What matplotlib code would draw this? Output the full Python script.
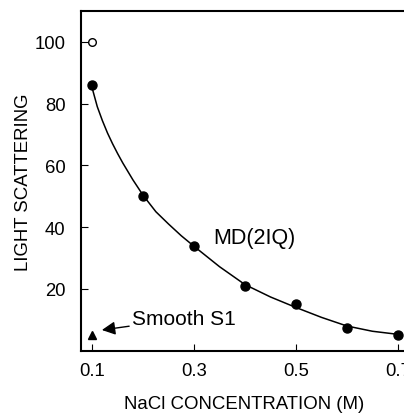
import matplotlib

matplotlib.use("Agg")
import matplotlib.pyplot as plt

plt.rcParams["font.family"] = ["Liberation Sans", "DejaVu Sans"]

# measured points, MD(2IQ)
nacl = [0.1, 0.2, 0.3, 0.4, 0.5, 0.6, 0.7]
scatter_md = [86, 50, 34, 21, 15, 7.5, 5]

# open circle and Smooth S1 triangle at 0.1 M
open_x, open_y = [0.1], [100]
s1_x, s1_y = [0.1], [5]

# fitted curve
curve_x = [0.100, 0.110, 0.120, 0.130, 0.140, 0.150, 0.160, 0.180, 0.200,
           0.225, 0.250, 0.275, 0.300, 0.350, 0.400, 0.450, 0.500, 0.550,
           0.600, 0.650, 0.700]
curve_y = [85.0, 79.0, 74.5, 70.5, 67.0, 63.8, 60.8, 55.3, 50.3,
           45.0, 41.0, 37.2, 33.8, 27.2, 21.4, 17.4, 14.0, 10.8,
           8.0, 6.3, 5.3]

xticks = [0.1, 0.3, 0.5, 0.7]
yticks = [20, 40, 60, 80, 100]

fig = plt.figure(figsize=(4.04, 4.14), dpi=100)
ax = fig.add_axes([81 / 404, 62.3 / 414, 327 / 404, 339.7 / 414])

ax.plot(curve_x, curve_y, color="black", linewidth=1.1)
ax.plot(nacl, scatter_md, "o", color="black", markersize=6.5, clip_on=False)
ax.plot(open_x, open_y, "o", markerfacecolor="white", markeredgecolor="black",
        markersize=5.5, markeredgewidth=1.0)
ax.plot(s1_x, s1_y, "^", color="black", markersize=6)

ax.annotate("Smooth S1", xy=(0.119, 6.7), xytext=(0.178, 10.4),
            fontsize=15, va="center", ha="left",
            arrowprops=dict(arrowstyle="-|>", color="black", lw=1.0,
                            mutation_scale=20, shrinkA=0, shrinkB=0))
ax.text(0.337, 36.5, "MD(2IQ)", fontsize=15.5, va="center", ha="left")

ax.set_xlim(0.078, 0.72)
ax.set_ylim(0, 110)
ax.set_xticks(xticks)
ax.set_xticklabels([f"{t:.1f}" for t in xticks])
ax.set_yticks(yticks)
ax.tick_params(direction="in", length=5, width=0.8, labelsize=13.3)
ax.tick_params(axis="x", pad=8)
ax.tick_params(axis="y", pad=11)

for side in ("left", "bottom", "top"):
    ax.spines[side].set_linewidth(1.5)
ax.spines["right"].set_visible(False)

ax.set_xlabel("NaCl CONCENTRATION (M)", fontsize=13.4, labelpad=12)
ax.set_ylabel("LIGHT SCATTERING", fontsize=13.4, labelpad=2)

fig.savefig("out.png", dpi=100)
